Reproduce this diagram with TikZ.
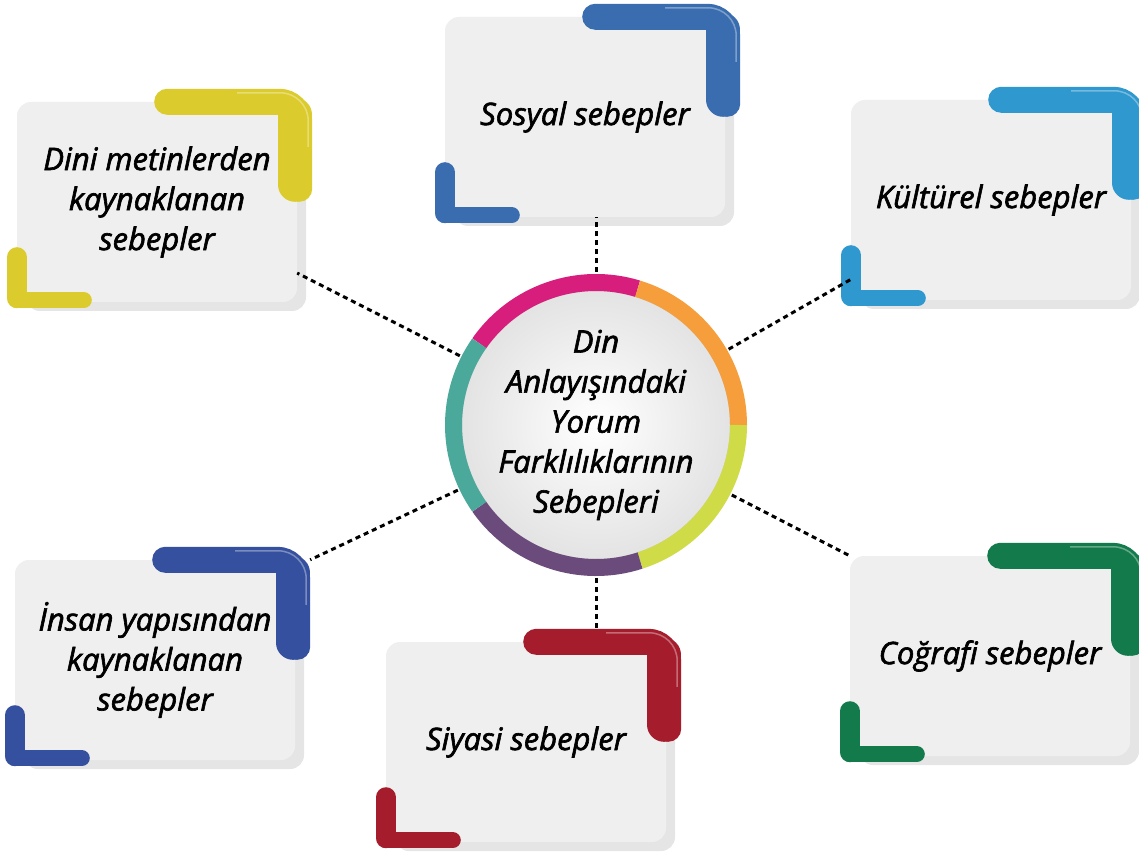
\documentclass[tikz,border=0pt]{standalone}
\usepackage{fontspec}
\newfontfamily\yazi{Open Sans}[ItalicFeatures={FakeBold=2}]
\usetikzlibrary{shadows}

\definecolor{kutugri}{HTML}{EFEFEF}
\definecolor{mavi}{HTML}{3A6DAF}
\definecolor{sari}{HTML}{DCCB2C}
\definecolor{acikmavi}{HTML}{2E98CF}
\definecolor{yesil}{HTML}{137A4C}
\definecolor{lacivert}{HTML}{35509E}
\definecolor{kirmizi}{HTML}{A51D2C}
\definecolor{pembe}{HTML}{D81E7C}
\definecolor{turuncu}{HTML}{F59E3B}
\definecolor{limon}{HTML}{CFDC48}
\definecolor{mor}{HTML}{6B4A7C}
\definecolor{turkuaz}{HTML}{4BA99B}

\tikzset{
  yazilar/.style={font=\yazi\itshape\fontsize{31}{40}\selectfont},
  kutu/.style={rectangle, rounded corners=14pt, fill=kutugri, minimum width=280pt,
    minimum height=200pt, align=center, yazilar,
    drop shadow={shadow xshift=9pt, shadow yshift=-9pt, opacity=0.1, fill=black}},
  cubuk/.style={line cap=round, line width=#1},
  baglanti/.style={line width=3pt, dash pattern=on 5pt off 4pt},
}

\begin{document}
\begin{tikzpicture}[x=1pt, y=1pt]
    \fill[white] (0,0) rectangle (1139,852);
    \useasboundingbox (0,0) rectangle (1139,852);

    % kutular
    \node[kutu] (sosyal) at (585,735) {Sosyal sebepler};
    \node[kutu] (dini) at (157,650) {Dini metinlerden\\kaynaklanan\\sebepler};
    \node[kutu] (kulturel) at (991,652) {Kültürel sebepler};
    \node[kutu] (cografi) at (990,196) {Coğrafi sebepler};
    \node[kutu] (insan) at (155,192) {İnsan yapısından\\kaynaklanan\\sebepler};
    \node[kutu] (siyasi) at (526,110) {Siyasi sebepler};

    % koseler
    \foreach \k/\renk in {sosyal/mavi, dini/sari, kulturel/acikmavi, cografi/yesil, insan/lacivert, siyasi/kirmizi} {
        \draw[cubuk=26pt, \renk, rounded corners=20pt] ([xshift=-130pt]\k.north east)
            -- ([xshift=2pt]\k.north east) -- ([shift={(2pt,-87pt)}]\k.north east);
        \draw[cubuk=34pt, \renk] ([shift={(-2pt,-13pt)}]\k.north east) -- ([shift={(-2pt,-83pt)}]\k.north east);
        \draw[white, opacity=0.35, line width=1.5pt, rounded corners=28pt] ([shift={(-60pt,9pt)}]\k.north east)
            -- ([shift={(11pt,9pt)}]\k.north east) -- ([shift={(11pt,-45pt)}]\k.north east);
        \draw[cubuk=20pt, \renk] ([yshift=45pt]\k.south west) -- ([yshift=4pt]\k.south west);
        \draw[cubuk=16pt, \renk] ([yshift=2pt]\k.south west) -- ([shift={(67pt,2pt)}]\k.south west);
    }

    % merkez
    \node[circle, minimum size=268pt, inner sep=0pt, outer sep=17pt, shading=radial,
        inner color=white, outer color=gray!22, align=center, yazilar] (merkez) at (596,427)
        {Din\\Anlayışındaki\\Yorum\\Farklılıklarının\\Sebepleri};
    \draw[black, opacity=0.12, line width=4pt] (merkez.center) circle[radius=136pt];
    \foreach \bas/\son/\renk in {73/145/pembe, 0/73/turuncu, -72/0/limon, -145/-72/mor, 145/215/turkuaz}
        \draw[line width=17pt, \renk] ([shift={(\bas:142.5pt)}]merkez.center) arc[start angle=\bas, end angle=\son, radius=142.5pt];

    % baglantilar
    \draw[baglanti] (merkez) -- (dini);
    \draw[baglanti] (merkez) -- (kulturel);
    \draw[baglanti] (merkez) -- (cografi.north west);
    \draw[baglanti] (merkez) -- ([xshift=15pt]insan.north east);
    \draw[baglanti] (merkez.north) -- (merkez.north |- sosyal.south);
    \draw[baglanti] (merkez.south) -- ([yshift=12pt]merkez.south |- siyasi.north);
\end{tikzpicture}
\end{document}
